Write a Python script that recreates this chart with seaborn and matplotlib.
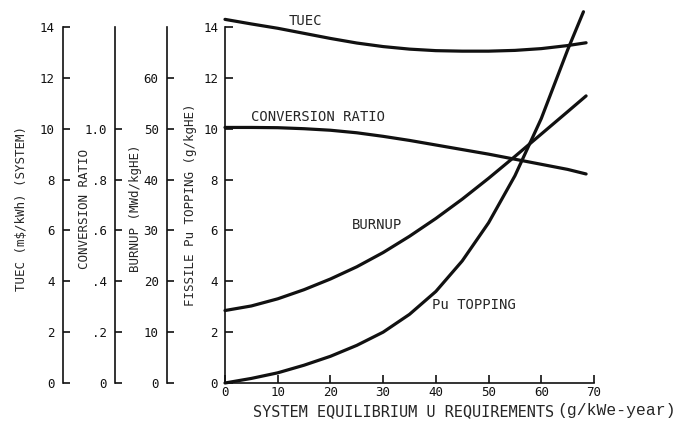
import seaborn as sns
import matplotlib
matplotlib.use("Agg")
import matplotlib.pyplot as plt

# data
u_req = [0, 5, 10, 15, 20, 25, 30, 35, 40, 45, 50, 55, 60, 65, 68.5]
tuec = [14.3, 14.12, 13.95, 13.75, 13.55, 13.37, 13.23, 13.13, 13.07, 13.05,
        13.05, 13.08, 13.15, 13.27, 13.38]
conv_ratio = [1.005, 1.005, 1.004, 1.0, 0.994, 0.984, 0.97, 0.954, 0.936,
              0.918, 0.90, 0.88, 0.86, 0.84, 0.822]
burnup = [14.25, 15.15, 16.55, 18.35, 20.45, 22.85, 25.65, 28.85, 32.35,
          36.15, 40.25, 44.55, 48.95, 53.35, 56.45]
pu_x = [0, 5, 10, 15, 20, 25, 30, 35, 40, 45, 50, 55, 60, 65, 68]
pu_topping = [0.0, 0.18, 0.4, 0.7, 1.05, 1.48, 2.0, 2.7, 3.6, 4.8, 6.3,
              8.15, 10.4, 13.1, 14.6]

x_ticks = [0, 10, 20, 30, 40, 50, 60, 70]
tuec_ticks = [0, 2, 4, 6, 8, 10, 12, 14]
cr_ticks = [0, 0.2, 0.4, 0.6, 0.8, 1.0]
cr_labels = ["0", ".2", ".4", ".6", ".8", "1.0"]
bu_ticks = [0, 10, 20, 30, 40, 50, 60]
pu_ticks = [0, 2, 4, 6, 8, 10, 12, 14]

sns.set_style("white")
plt.rcParams["font.family"] = ["DejaVu Sans Mono", "DejaVu Sans"]

fig = plt.figure(figsize=(6.81, 4.22), dpi=100)
ax = fig.add_axes([225 / 681, 1 - 383 / 422, 369 / 681, 356 / 422])

lw = 2.3
black = "#111111"


def style_axis(a, pos):
    for s in ["top", "right", "bottom"]:
        a.spines[s].set_visible(False)
    a.spines["left"].set_visible(True)
    a.spines["left"].set_position(("axes", pos))
    a.spines["left"].set_color(black)
    a.spines["left"].set_linewidth(1.2)
    a.yaxis.set_ticks_position("left")
    a.yaxis.set_label_position("left")
    a.tick_params(axis="y", direction="in", length=5, width=1.2, pad=6,
                  labelsize=9, colors=black)


ax_t = ax.twinx()
ax_c = ax.twinx()
ax_b = ax.twinx()
style_axis(ax_t, -162 / 369)
style_axis(ax_c, -110 / 369)
style_axis(ax_b, -58 / 369)

line_kw = dict(color=black, linewidth=lw, clip_on=False, solid_joinstyle="round")
sns.lineplot(x=pu_x, y=pu_topping, ax=ax, **line_kw)
sns.lineplot(x=u_req, y=tuec, ax=ax_t, **line_kw)
sns.lineplot(x=u_req, y=conv_ratio, ax=ax_c, **line_kw)
sns.lineplot(x=u_req, y=burnup, ax=ax_b, **line_kw)

ax.set_xlim(0, 70)
ax.set_ylim(0, 14)
ax_t.set_ylim(0, 14)
ax_c.set_ylim(0, 1.4)
ax_b.set_ylim(0, 70)

ax.set_xticks(x_ticks)
ax.set_yticks(pu_ticks)
ax_t.set_yticks(tuec_ticks)
ax_c.set_yticks(cr_ticks)
ax_c.set_yticklabels(cr_labels)
ax_b.set_yticks(bu_ticks)

for s in ["top", "right"]:
    ax.spines[s].set_visible(False)
for s in ["left", "bottom"]:
    ax.spines[s].set_color(black)
    ax.spines[s].set_linewidth(1.2)
ax.tick_params(axis="y", direction="in", length=6, width=1.2, pad=5,
               labelsize=9, colors=black, left=True)
ax.tick_params(axis="x", direction="in", length=6, width=1.2, pad=2,
               labelsize=9, colors=black, bottom=True)

ax_t.set_ylabel("TUEC (m$/kWh) (SYSTEM)", fontsize=9)
ax_c.set_ylabel("CONVERSION RATIO", fontsize=9)
ax_b.set_ylabel("BURNUP (MWd/kgHE)", fontsize=9)
ax.set_ylabel("FISSILE Pu TOPPING (g/kgHE)", fontsize=9)
ax_t.yaxis.set_label_coords((28 - 225) / 369, 0.49)
ax_c.yaxis.set_label_coords((91 - 225) / 369, 0.49)
ax_b.yaxis.set_label_coords((142 - 225) / 369, 0.49)
ax.yaxis.set_label_coords((197 - 225) / 369, 0.5)
ax.set_xlabel("")

# curve labels
ax.text(12, 14.25, "TUEC", fontsize=10, va="center", clip_on=False)
ax.text(4.9, 10.47, "CONVERSION RATIO", fontsize=10, va="center")
ax.text(24.1, 6.22, "BURNUP", fontsize=10, va="center")
ax.text(39.3, 3.05, "Pu TOPPING", fontsize=10, va="center")

# x axis title: mono caps + courier-style unit
fig.text(554 / 681, 1 - 412 / 422, "SYSTEM EQUILIBRIUM U REQUIREMENTS",
         fontsize=11, ha="right", va="center")
fig.text(676 / 681, 1 - 411 / 422, "(g/kWe-year)", fontsize=11.8,
         family=["Liberation Mono", "DejaVu Sans Mono"], ha="right", va="center")

fig.savefig("out.png", dpi=100)
